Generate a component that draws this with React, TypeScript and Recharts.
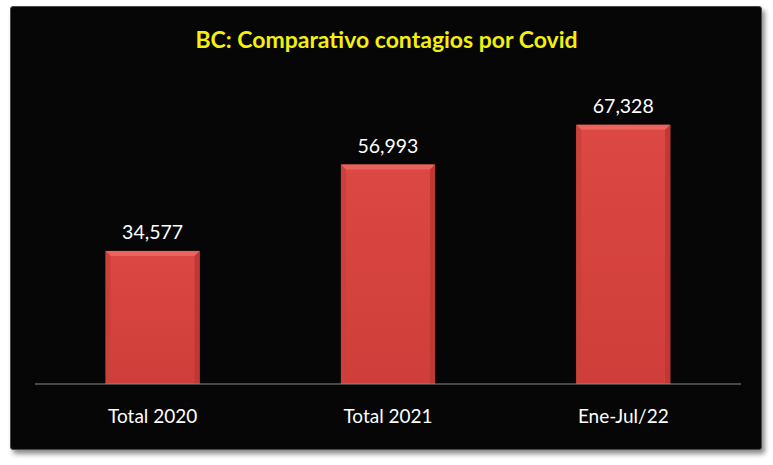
import { Bar, BarChart, LabelList, XAxis, YAxis } from 'recharts'

const categories = ['Total 2020', 'Total 2021', 'Ene-Jul/22']
const contagios = [34577, 56993, 67328]

const data = categories.map((name, i) => ({ name, value: contagios[i] }))

const FONT = 'Lato, "Open Sans", sans-serif'

// barra con bisel como en el original de Excel
function BevelBar(props: any) {
  const { x, y, width, height } = props
  if (!height || height <= 0) return null
  const b = 5
  return (
    <g>
      <rect x={x} y={y} width={width} height={height} fill="url(#barFill)" />
      <polygon points={`${x},${y} ${x + width},${y} ${x + width - b},${y + b} ${x + b},${y + b}`} fill="#ea645d" />
      <polygon points={`${x},${y} ${x + b},${y + b} ${x + b},${y + height} ${x},${y + height}`} fill="#cb403b" />
      <polygon points={`${x + width},${y} ${x + width - b},${y + b} ${x + width - b},${y + height} ${x + width},${y + height}`} fill="#c03834" />
    </g>
  )
}

export default function App() {
  return (
    <div style={{ position: 'absolute', left: 0, top: 0, width: 773, height: 465, background: '#fff', fontFamily: FONT }}>
      <div
        style={{
          position: 'absolute',
          left: 10,
          top: 6,
          width: 752,
          height: 444,
          background: '#060606',
          borderRadius: 3,
          border: '1px solid #4a4a4a',
          boxSizing: 'border-box',
          boxShadow: '3px 4px 5px rgba(0,0,0,0.45)',
        }}
      />
      <div
        style={{
          position: 'absolute',
          left: 0,
          top: 25,
          width: 773,
          textAlign: 'center',
          color: '#f4f00c',
          fontWeight: 700,
          fontSize: 23,
          fontFamily: FONT,
        }}
      >
        BC: Comparativo contagios por Covid
      </div>
      <div style={{ position: 'absolute', left: 0, top: 0 }}>
        <BarChart
          width={773}
          height={465}
          data={data}
          margin={{ top: 76, right: 32, left: 35, bottom: 51 }}
          barCategoryGap="30%"
        >
          <defs>
            <linearGradient id="barFill" x1="0" y1="0" x2="0" y2="1">
              <stop offset="0%" stopColor="#dc4843" />
              <stop offset="100%" stopColor="#cf3e3a" />
            </linearGradient>
          </defs>
          <XAxis
            dataKey="name"
            height={30}
            axisLine={{ stroke: '#8a8a8a', strokeWidth: 1 }}
            tickLine={false}
            tickSize={0}
            tickMargin={26}
            tick={{ fill: '#ffffff', fontSize: 19, fontFamily: FONT }}
          />
          <YAxis hide domain={[0, 80000]} />
          <Bar dataKey="value" shape={<BevelBar />} isAnimationActive={false}>
            <LabelList
              dataKey="value"
              position="top"
              offset={12}
              formatter={(v: any) => Number(v).toLocaleString('en-US')}
              style={{ fill: '#ffffff', fontSize: 19.5, fontFamily: FONT }}
            />
          </Bar>
        </BarChart>
      </div>
    </div>
  )
}
